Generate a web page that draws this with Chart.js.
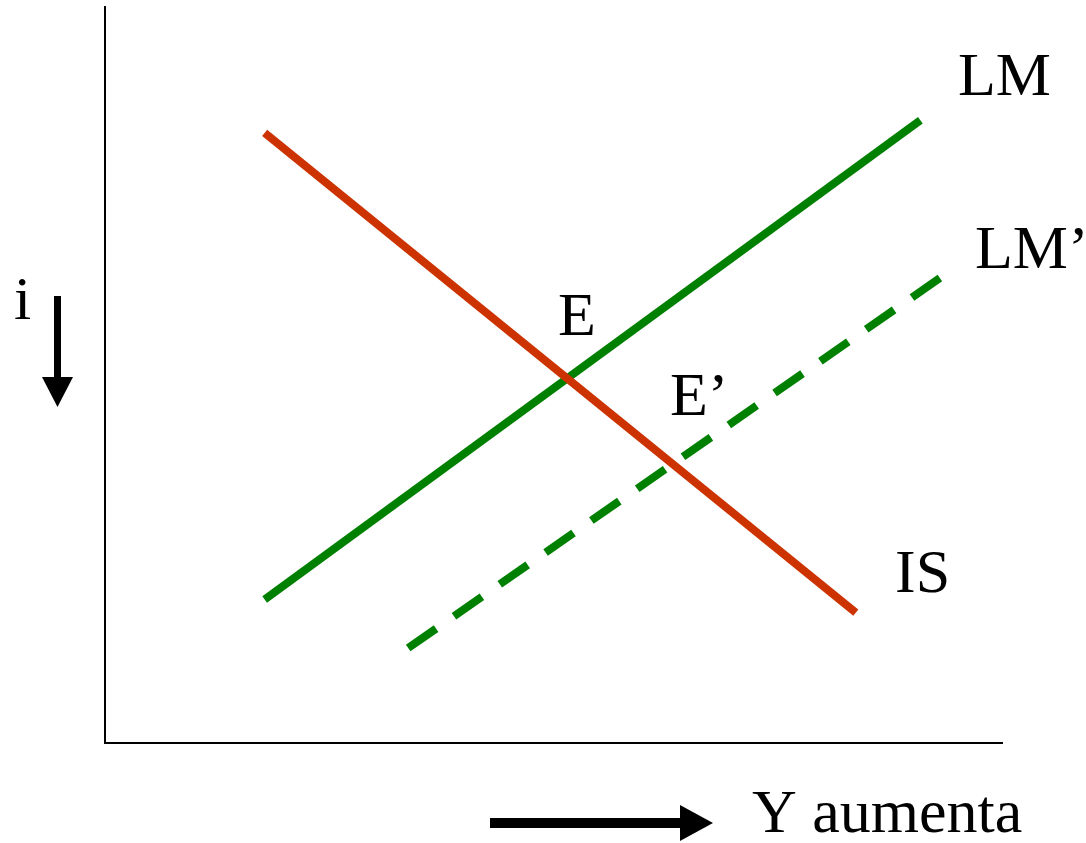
<!DOCTYPE html>
<html>
<head>
<meta charset="utf-8">
<script src="https://cdn.jsdelivr.net/npm/chart.js@4"></script>
<style>
  html, body { margin: 0; padding: 0; background: #fff; }
  #wrap { width: 1086px; height: 843px; }
</style>
</head>
<body>
<div id="wrap"><canvas id="myChart" width="1086" height="843"></canvas></div>
<script>
// line end points, in chart units (0..10 on both axes)
const isX = [1.78, 8.37];
const isY = [8.29, 1.77];
const lmX = [1.78, 9.09];
const lmY = [1.95, 8.46];
const lm2X = [3.38, 9.31];
const lm2Y = [1.29, 6.32];

const curveNames = ['IS', 'LM', 'LM’'];

function pts(xs, ys) {
    return xs.map((x, i) => ({ x: x, y: ys[i] }));
}

// text labels and the two arrows outside the plot
const labelsPlugin = {
    id: 'labels',
    afterDraw(chart) {
        const ctx = chart.ctx;
        ctx.save();
        ctx.fillStyle = '#000';
        ctx.font = '62px "Liberation Serif", "Times New Roman", serif';
        ctx.textBaseline = 'alphabetic';
        ctx.textAlign = 'left';
        ctx.fillText('LM', 958, 95);
        ctx.fillText('LM’', 975, 268);
        ctx.fillText('E', 558, 335);
        ctx.fillText('E’', 670, 415);
        ctx.fillText('IS', 895, 592);
        ctx.fillText('i', 14, 319);
        ctx.fillText('Y aumenta', 752, 832);

        // down arrow next to i
        ctx.fillRect(54, 296, 7, 82);
        ctx.beginPath();
        ctx.moveTo(42, 377);
        ctx.lineTo(73, 377);
        ctx.lineTo(57.5, 407);
        ctx.closePath();
        ctx.fill();

        // right arrow before "Y aumenta"
        ctx.fillRect(490, 818, 195, 10);
        ctx.beginPath();
        ctx.moveTo(680, 805);
        ctx.lineTo(713, 823);
        ctx.lineTo(680, 841);
        ctx.closePath();
        ctx.fill();
        ctx.restore();
    }
};

var ctx = document.getElementById('myChart').getContext('2d');
var myChart = new Chart(ctx, {
    type: 'scatter',
    data: {
        datasets: [
            {
                label: curveNames[0],
                data: pts(isX, isY),
                showLine: true,
                borderColor: '#CC3300',
                borderWidth: 8,
                pointRadius: 0
            },
            {
                label: curveNames[1],
                data: pts(lmX, lmY),
                showLine: true,
                borderColor: '#008000',
                borderWidth: 8,
                pointRadius: 0
            },
            {
                label: curveNames[2],
                data: pts(lm2X, lm2Y),
                showLine: true,
                borderColor: '#008000',
                borderWidth: 8,
                borderDash: [34, 21.8],
                pointRadius: 0
            }
        ]
    },
    options: {
        responsive: false,
        animation: false,
        layout: { padding: { left: 105, top: 7, right: 84, bottom: 100 } },
        plugins: {
            legend: { display: false },
            tooltip: { enabled: false }
        },
        scales: {
            x: {
                type: 'linear',
                min: 0,
                max: 10,
                grid: { display: false },
                ticks: { display: false },
                border: { display: true, color: '#000', width: 2 },
                afterFit: s => { s.height = 0; }
            },
            y: {
                type: 'linear',
                min: 0,
                max: 10,
                grid: { display: false },
                ticks: { display: false },
                border: { display: true, color: '#000', width: 2 },
                afterFit: s => { s.width = 0; }
            }
        }
    },
    plugins: [labelsPlugin]
});
</script>
</body>
</html>
